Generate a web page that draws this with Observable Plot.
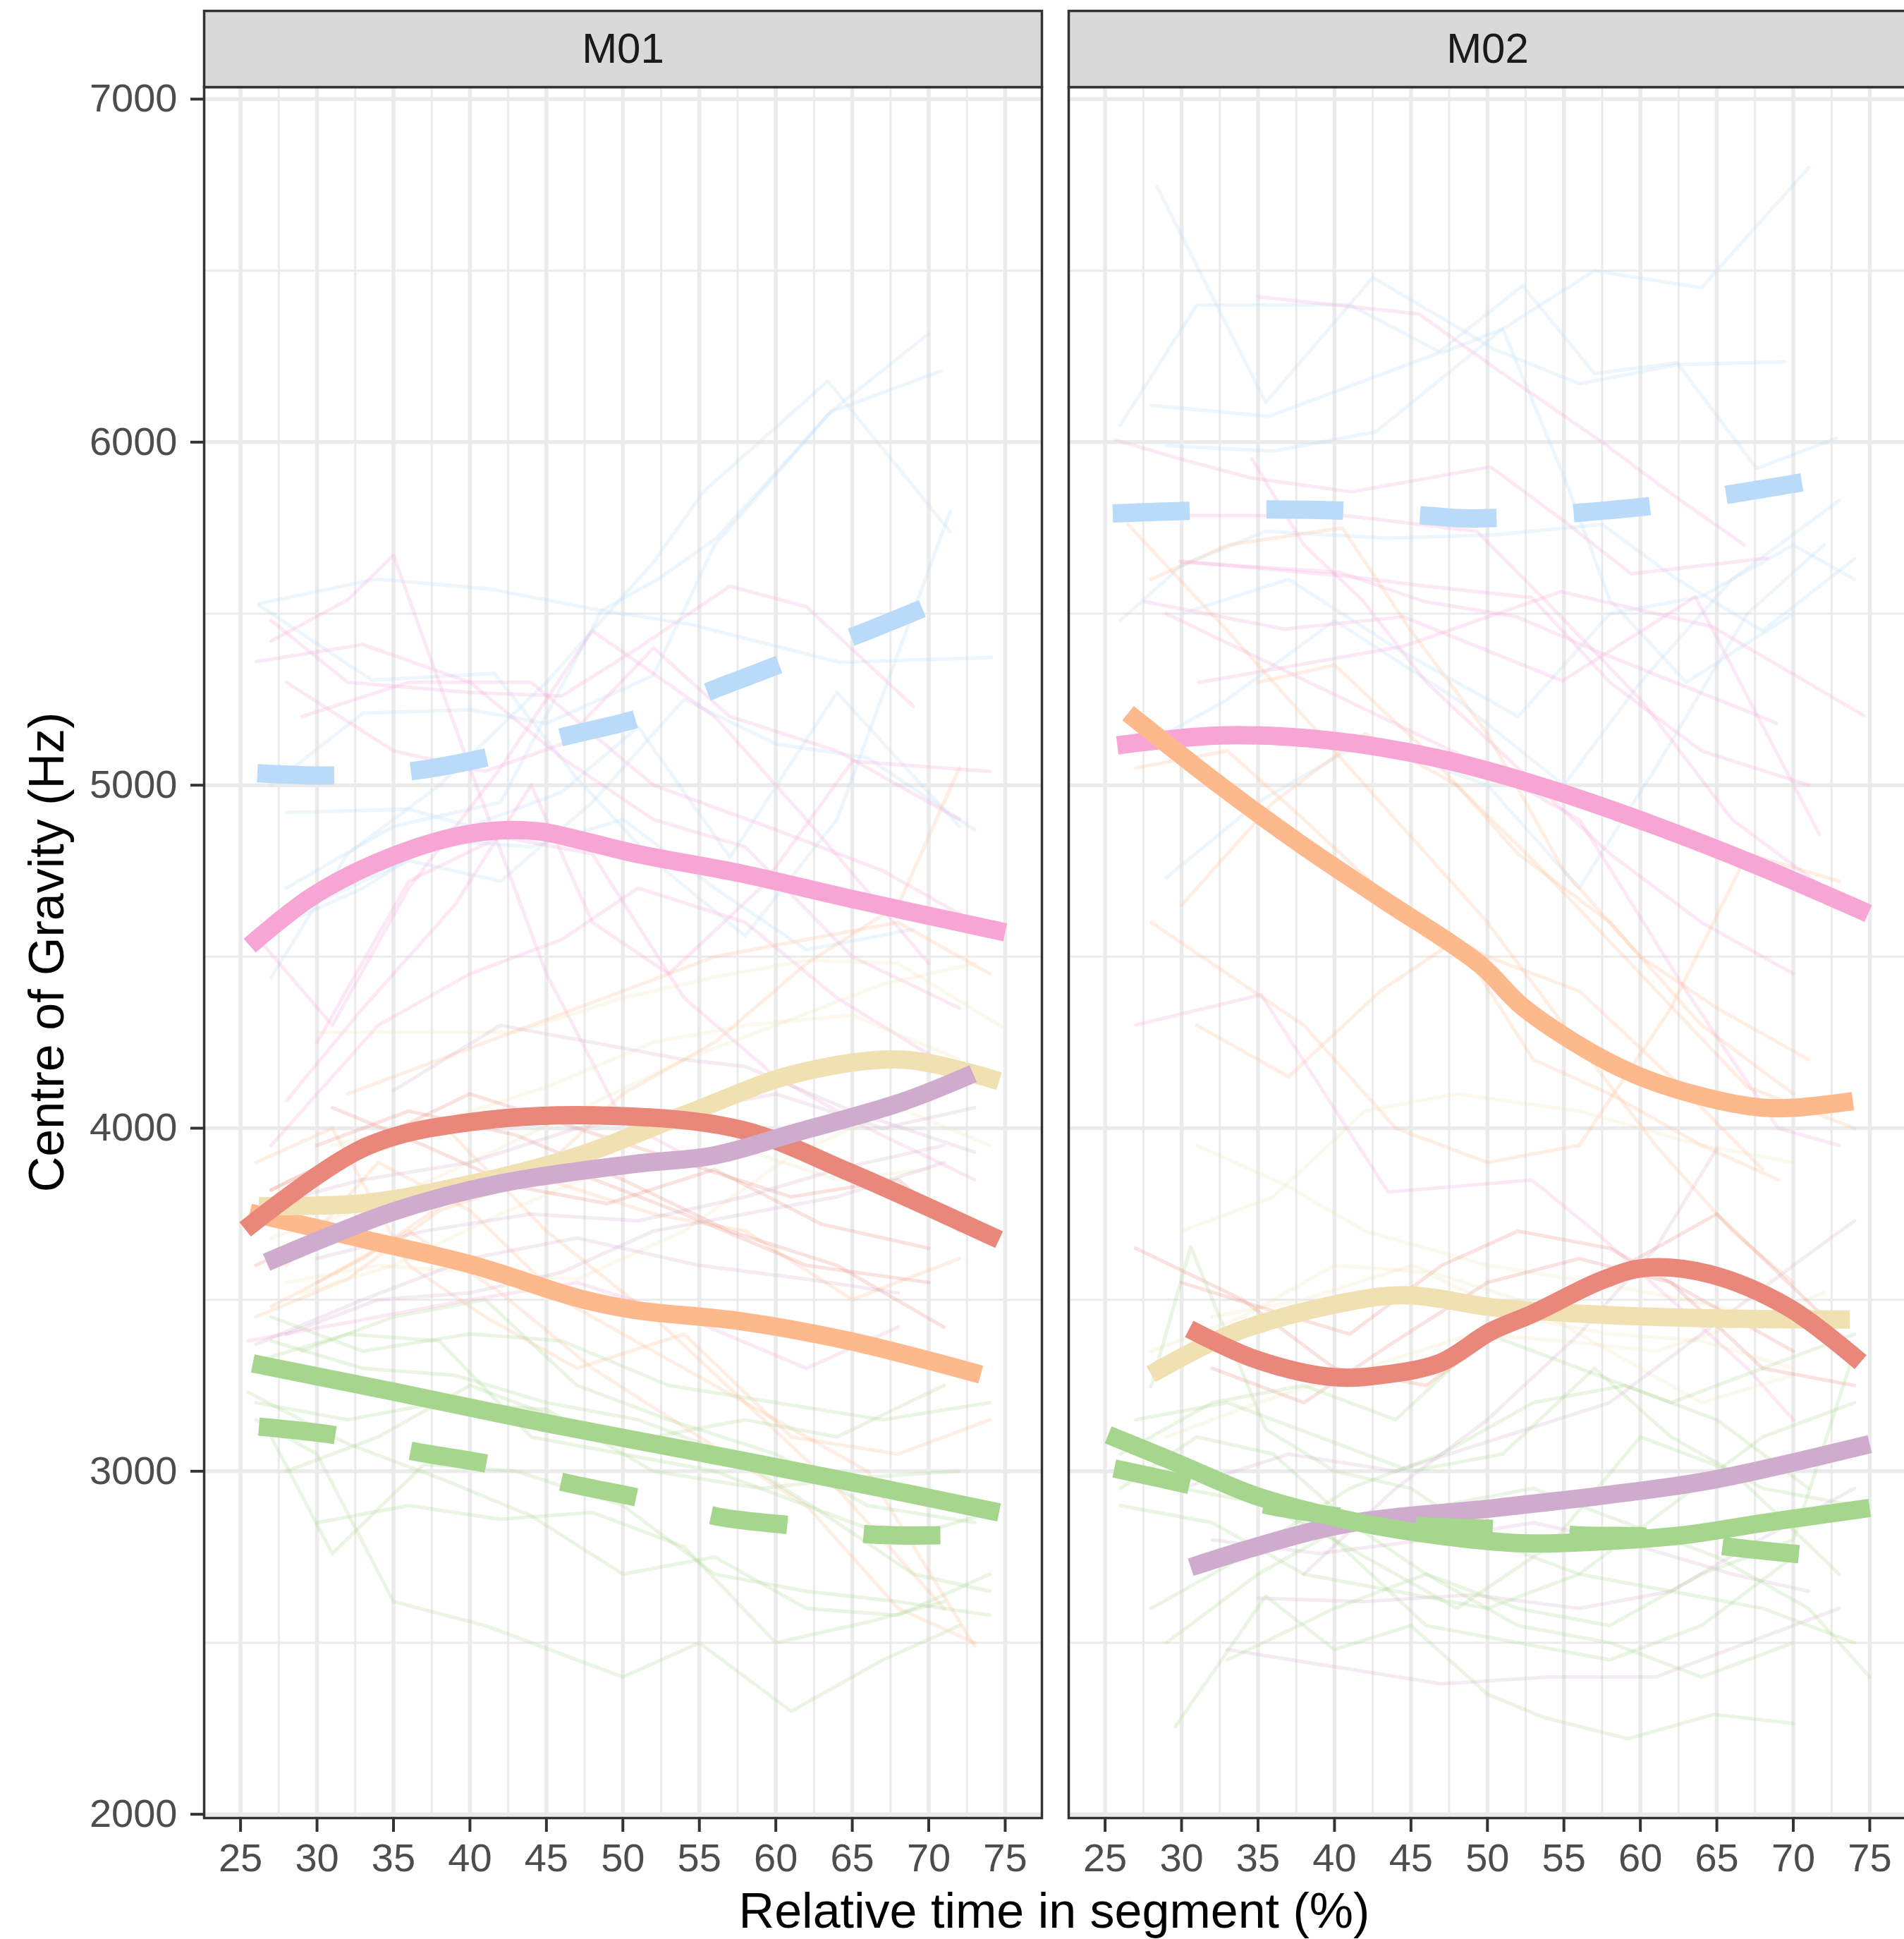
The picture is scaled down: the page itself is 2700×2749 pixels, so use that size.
<!DOCTYPE html>
<html><head><meta charset="utf-8">
<script src="https://cdn.jsdelivr.net/npm/d3@7"></script>
<script src="https://cdn.jsdelivr.net/npm/@observablehq/plot@0.6"></script>
<style>
html,body{margin:0;padding:0;background:#fff;overflow:hidden;}
#chart{width:2700px;height:2749px;overflow:hidden;}
#chart svg{display:block;max-width:none !important;height:auto;}
</style></head><body><div id="chart"></div>
<script>
// ---------- categories & ticks ----------
const panels = ["M01", "M02"];
const xTicks = [25, 30, 35, 40, 45, 50, 55, 60, 65, 70, 75];
const xMinor = [27.5, 32.5, 37.5, 42.5, 47.5, 52.5, 57.5, 62.5, 67.5, 72.5];
const yTicks = [2000, 3000, 4000, 5000, 6000, 7000];
const yMinor = [2500, 3500, 4500, 5500, 6500];
const xTitle = "Relative time in segment (%)";
const yTitle = "Centre of Gravity (Hz)";
const groupColors = {blue: "#b9daf8", pink: "#f7a5d4", orange: "#fdb98c", yellow: "#f0e0b2",
                     red: "#e8877a", purple: "#cfacce", green: "#a6d68e"};

// ---------- smoothed (thick) series, M01 ----------
const m01BlueDashed = [[26.1,5035],[31,5028],[36,5040],[41,5080],[46,5140],[51,5195],[56,5280],[61,5365],[66,5450],[70.4,5530]];
const m01Pink = [[25.6,4532],[29.7,4676],[35,4794],[40.2,4860],[44.4,4866],[47.2,4840],[50.8,4801],[57.8,4742],[64.8,4670],[75,4571]];
const m01Orange = [[25.6,3754],[33.2,3675],[40.2,3601],[47.2,3503],[50.8,3470],[57.8,3437],[64.8,3380],[73.4,3282]];
const m01Yellow = [[26.2,3773],[33.2,3782],[40.2,3839],[47.2,3921],[54.3,4044],[61.3,4159],[68.3,4200],[74.6,4137]];
const m01Red = [[25.3,3705],[33.2,3946],[40.2,4019],[49.4,4036],[57.8,3995],[64.8,3872],[74.6,3675]];
const m01Purple = [[26.7,3609],[35,3757],[42,3839],[50.8,3896],[56,3921],[61.3,3987],[68.3,4077],[72.9,4159]];
const m01Green = [[25.8,3314],[35,3232],[45,3140],[55,3055],[65,2968],[74.6,2880]];
const m01GreenDashed = [[26.2,3130],[31.2,3105],[36.3,3058],[41.3,3020],[46.4,2965],[51.3,2920],[56.4,2866],[61.5,2840],[66.5,2815],[71.6,2814]];

// ---------- smoothed (thick) series, M02 ----------
const m02BlueDashed = [[25.5,5792],[30.6,5800],[35.7,5804],[40.8,5800],[45.9,5786],[48.4,5778],[51,5780],[56.2,5795],[61.2,5817],[66.4,5852],[71.4,5889]];
const m02Pink = [[25.8,5116],[32.5,5145],[39.6,5131],[46.6,5080],[53.7,4994],[60.8,4885],[67.8,4763],[74.9,4626]];
const m02Orange = [[26.5,5210],[32.5,5000],[37.8,4828],[43.1,4669],[49.5,4478],[52.3,4354],[57.5,4203],[61,4133],[66.2,4071],[69,4058],[73.9,4079]];
const m02Yellow = [[28,3283],[33.1,3398],[40,3486],[44.6,3513],[50.5,3477],[57.5,3456],[64.5,3446],[73.7,3442]];
const m02Red = [[30.5,3415],[34.8,3327],[40,3274],[43.5,3283],[47,3318],[50.2,3407],[53,3460],[57.5,3557],[60.3,3593],[64.5,3575],[69.7,3477],[74.4,3318]];
const m02Purple = [[30.6,2720],[40,2840],[50.5,2893],[57.5,2929],[64.5,2973],[75,3079]];
const m02Green = [[25.2,3106],[29.6,3026],[34.8,2929],[40,2866],[45.3,2822],[52.3,2790],[57.5,2796],[62.7,2813],[68,2849],[75,2893]];
const m02GreenDashed = [[25.6,3008],[30.6,2959],[35.5,2902],[40.6,2866],[45.6,2840],[50.7,2831],[55.9,2813],[61,2808],[66.1,2778],[71.1,2755]];

// ---------- individual (faint) token trajectories: "x y,x y,..." ----------
const m01BlueFaint = [
 "26.2 5529,33.9 5601,41.3 5572,48.6 5509,54.3 5470,64.2 5358,74.1 5372",
 "26.2 5525,33.6 5306,41.6 5326,47 5020,52 4780,58 4560,64 4900,71.4 5798",
 "27 4440,32 4800,38 5000,45 5300,52 5650,55.3 5857,63.4 6178,71.4 5739",
 "28 4700,35 4880,42 4950,48.6 5509,52.3 5601,56.1 5719,63.6 6089,70 6316",
 "28 4920,36 4930,40 4880,46 4980,51 5170,57 4790,64 5270,72 4880",
 "27 5000,33 5210,40 5220,45 5180,52 5320,56 5700,63.6 6089,70.8 6207",
 "30 4660,36 4780,42 4720,48 4950,54 5250,60 5120,66 5080,73 4870",
 "27 4580,33 4700,38 4840,44 4820,50 4900,56 4700,62 4520,69 4580"
];
const m01PinkFaint = [
 "27 5420,32 5540,35 5670,40 5050,45 4450,50 4020,55 3900",
 "26 5360,33 5410,40 5300,46 5080,52 4900,58 4820,65 4500,72 4350",
 "28 5300,35 5100,41 5040,46 5120,52 5400,57 5200,64 5100,72 4900",
 "27 5480,32 5300,40 5270,46 5260,51 5400,57 5580,62 5520,69 5230",
 "26 4560,31 4300,36 4700,42 5050,48 5450,56 5200,62 4900,70 4480",
 "28 4080,33 4350,39 4650,44 5000,48 4600,53 4450,59 4700,65 5070,74 5040",
 "27 3950,34 4300,40 4450,46 4550,51 4700,58 4600,64 4380,72 4160",
 "30 4250,36 4720,42 4850,48 4800,54 4380,60 4150,66 4000,73 3850",
 "25.5 3380,34 3450,40 3500,47 3550,54 3450,62 3300,68 3420",
 "29 5200,36 5300,44 5300,52 5000,60 4870,67 4750,73 4600"
];
const m01OrangeFaint = [
 "26 3450,32 3560,38 3760,44 3850,50 4100,56 4250,62 4480,68 4650,72 5050",
 "27 3820,33 3950,38 4020,45 3700,52 3450,58 3200,64 2950,71 2600",
 "28 3600,34 3900,40 3760,46 3500,52 3350,60 3150,66 3000,73 2490",
 "26 3900,31 4000,36 3600,41 3450,47 3300,54 3400,61 3100,68 3050,74 3150",
 "30 3550,36 3700,42 3520,48 3300,55 3100,62 2900,68 2600,73 2500",
 "27 3480,33 3620,39 3800,45 3850,52 3750,58 3700,65 3500,72 3620",
 "32 4100,38 4200,44 4300,50 4400,56 4500,62 4550,68 4600,74 4450"
];
const m01YellowFaint = [
 "30 4280,38 4280,43 4280,50 4380,56 4440,62 4490,68 4480,75 4290",
 "27 3680,34 3780,40 3900,47 4050,54 4200,60 4300,67 4420,73 4480",
 "29 3520,35 3600,42 3750,50 3900,57 3950,64 3850,70 3880",
 "28 3550,34 3600,40 3580,47 3560,54 3700,61 3920,68 4060,74 3950",
 "31 3950,38 4020,45 4120,52 4250,58 4300,65 4330,72 4200"
];
const m01RedFaint = [
 "27 3820,33 3950,40 4100,47 4000,54 3900,61 3800,68 3850,72 3700",
 "30 3950,36 4050,43 3980,50 3850,57 3700,64 3600,71 3420",
 "26 3600,33 3750,40 3850,47 3870,54 3750,62 3600,70 3550",
 "31 4060,37 3950,43 3830,49 3780,56 3880,63 3720,70 3650"
];
const m01PurpleFaint = [
 "27 3780,33 3850,40 3900,47 4000,54 4050,60 4100,67 4000,73 4060",
 "28 3400,34 3500,40 3520,46 3580,52 3700,58 3750,64 3800,71 3900",
 "35 4110,42 4300,48 4250,54 4200,58 4180,65 4050,73 3930",
 "26 3370,33 3500,40 3620,47 3680,55 3600,62 3560,68 3520",
 "30 3620,37 3700,44 3750,51 3730,58 3800,64 3880,71 3950"
];
const m01GreenFaint = [
 "27 3100,31 2760,37 3020,43 3000,50 2900,56 2700,62 2650,68 2620,74 2580",
 "29 3350,35 3450,41 3500,47 3250,53 3150,60 3050,66 2900,73 2850",
 "26 3150,30 3050,35 2620,41 2550,50 2400,55 2500,61 2300,67 2450,72 2550",
 "27 3380,33 3300,39 3280,45 3200,51 3150,57 3050,63 2880,69 2700,74 2650",
 "26 3200,32 3150,38 3200,45 3180,52 3000,59 2950,65 2980,72 3000",
 "28 3000,34 3100,40 3250,46 3150,52 3100,58 3150,64 3100,71 3250",
 "25.5 3230,32 3080,38 2980,44 2870,50 2700,56 2750,62 2600,68 2580,74 2700",
 "27 3450,33 3350,40 3400,46 3380,53 3250,60 3200,67 3150,74 3200",
 "30 2850,36 2900,42 2860,48 2880,54 2780,60 2500,66 2560,71 2620",
 "26 3320,32 3400,38 3380,44 3100,50 3050,56 3000,62 2900,68 2800,74 2880"
];
const m02BlueFaint = [
 "26 6050,31 6400,41 6400,47 6260,51 6330,57 6500,64 6450,71 6800",
 "28.4 6745,35.5 6116,42.5 6480,50.5 6270,56 6170,62.4 6226,69.4 6234",
 "28 6107,35.7 6075,46.7 6258,52.3 6456,57 6200,62.4 6231,67.6 5923,72.8 6011",
 "29 5990,36 5974,42.7 6030,51 6330,55 5900,58 5540,63 5300,70 5500",
 "26 5480,30 5640,35.5 5740,43.5 5720,50.5 5730,57.5 5760,62.4 5600,68 5450,74 5660",
 "27 5100,33 5250,40 5480,48 5250,55 5000,60 5300,66 5600,73 5830",
 "29 4730,35 4950,42 5130,50 5000,56 4700,61 5050,67 5500,72 5700",
 "30 5500,37 5600,44 5400,52 5200,58 5500,64 5550,70 5700,74 5600"
];
const m02PinkFaint = [
 "35 6424,45.5 6374,51 6200,57.5 6000,62 5850,66.8 5700",
 "25.7 6006,30 5950,34.5 5896,41.1 5855,50.2 5928,55 5770,59.4 5616,68.3 5662",
 "29.9 5786,40.7 5786,49.3 5740,53.6 5547,60 5250,66 4900,72 4700",
 "29.9 5653,40.4 5611,46 5580,52.9 5547,58 5300,64 5100,71 5000",
 "27.6 5535,36.7 5455,44.5 5491,54.9 5304,63.6 5549,71.7 4857",
 "31.1 5299,44.5 5405,54.8 5564,64.7 5462,74.6 5203",
 "30 5650,40.3 5621,45.9 5535,51.9 5491,57.2 5390,68.9 5181",
 "27 4301,35.2 4389,43.5 3814,52.9 3849,57 3700,62 3500,67 3300,70 3150",
 "34.6 5951,38 5700,41.8 5540,46 5300,52 5050,58 4800,64 4600,70 4450",
 "29 5500,36 5350,43 5200,50 5050,56 4900,63 4400,69 4000,73 3950"
];
const m02OrangeFaint = [
 "26.5 5760,33 5450,38 5200,44 4900,50 4600,55 4300,61 3950,66 3700,70 3550",
 "28 5600,33 5700,40.5 5750,45 5450,50 5150,55 4750,60 4500,65 4350,71 4200",
 "27 5050,33 5100,38 4900,44 4650,50 4500,56 4400,62 4150,68 3880",
 "30 4650,36 4950,42 5150,48 5000,53 4780,60 4450,67 4120,74 4000",
 "28 4600,33 4450,38 4300,44 4000,50 3900,56 3950,62 4350,67 4800,73 4720",
 "31 4300,37 4150,43 4400,48 4550,53 4200,58 4100,64 3950,69 3850",
 "35 5300,40 5350,46 5100,52 4800,58 4600,64 4300,70 4100"
];
const m02YellowFaint = [
 "30 3700,36 3800,42 4050,48 4100,56 4050,64 3950,70 3900",
 "31 3950,37 3830,42 3700,50 3600,57 3550,63 3500,68 3450",
 "28 3350,34 3450,40 3600,46 3580,52 3450,58 3400,64 3380,70 3300",
 "29 3100,35 3200,42 3300,49 3400,55 3380,61 3350,66 3420,72 3520",
 "32 3450,38 3500,45 3600,52 3500,58 3350,64 3200,70 3280"
];
const m02RedFaint = [
 "30 3550,35 3480,41 3400,47 3600,52 3700,58 3650,64 3500,70 3350",
 "27 3650,34 3500,40 3300,46 3250,52 3450,59 3600,65 3750,72 3450",
 "32 3300,38 3200,44 3380,50 3550,56 3620,62 3550,68 3300,74 3250"
];
const m02PurpleFaint = [
 "33 2480,40 2430,47 2380,54 2400,61 2400,67 2500,73 2600",
 "38 2700,44 2950,50 3150,56 3400,61 3650,65 3940",
 "35 2630,42 2620,49 2640,56 2600,62 2650,67 2780,74 2950",
 "30 2950,37 3050,44 3000,51 3100,58 3200,64 3400,70 3600,74 3730",
 "32 2800,39 2760,46 2800,53 2850,60 2780,66 2700,71 2650"
];
const m02GreenFaint = [
 "28 3247,30.6 3654,35.5 3123,40 3000,45 2950,50 2800,56 2700,62 2650,68 2600,74 2500",
 "29.6 2256,35.5 2636,40 2480,45 2550,50 2350,53.7 2282,59.2 2220,64.8 2291,70 2265",
 "26 2950,31 3100,36 3050,41 2850,46 2700,52 2600,58 2550,64 2700,70 2800,74 3350",
 "27 3150,33 3200,39 3100,45 3000,51 3050,57 3300,62 3100,68 2950,74 2900",
 "26 2900,32 2850,38 2700,44 2650,50 2600,56 2700,62 2900,68 3100,74 3200",
 "28 2600,34 2750,41 2950,47 3050,53 3200,59 3250,65 3150,71 2950",
 "27 3050,33 2950,40 2800,46 2550,52 2500,58 2450,64 2550,70 2750",
 "30 2950,36 2900,42 2750,48 2600,54 2780,60 3100,66 3000,73 2700",
 "29 2500,35 2700,41 2850,47 2900,53 2950,59 2850,65 2750,71 2600,75 2400",
 "26 3050,32 3200,38 3250,44 3150,50 3400,56 3300,62 3200,68 3300,74 3400",
 "33 2450,40 2600,46 2700,52 2550,58 2500,64 2400,70 2500"
];

// ---------- build tables ----------
const smoothSeries = [
  ["M01","blue",true,m01BlueDashed],["M01","pink",false,m01Pink],["M01","orange",false,m01Orange],
  ["M01","yellow",false,m01Yellow],["M01","red",false,m01Red],["M01","purple",false,m01Purple],
  ["M01","green",false,m01Green],["M01","green",true,m01GreenDashed],
  ["M02","blue",true,m02BlueDashed],["M02","pink",false,m02Pink],["M02","orange",false,m02Orange],
  ["M02","yellow",false,m02Yellow],["M02","red",false,m02Red],["M02","purple",false,m02Purple],
  ["M02","green",false,m02Green],["M02","green",true,m02GreenDashed]
];
const smoothRows = smoothSeries.flatMap(([panel, group, dashed, pts]) =>
  pts.map(([x, y]) => ({panel, group, dashed, key: panel + group + (dashed ? "-d" : ""), x, y})));

const faintSets = [
  ["M01","blue",m01BlueFaint],["M01","pink",m01PinkFaint],["M01","orange",m01OrangeFaint],
  ["M01","yellow",m01YellowFaint],["M01","red",m01RedFaint],["M01","purple",m01PurpleFaint],["M01","green",m01GreenFaint],
  ["M02","blue",m02BlueFaint],["M02","pink",m02PinkFaint],["M02","orange",m02OrangeFaint],
  ["M02","yellow",m02YellowFaint],["M02","red",m02RedFaint],["M02","purple",m02PurpleFaint],["M02","green",m02GreenFaint]
];
const faintRows = faintSets.flatMap(([panel, group, lines]) =>
  lines.flatMap((s, i) => s.split(",").map(p => {
    const [x, y] = p.trim().split(/\s+/).map(Number);
    return {panel, group, id: panel + group + i, x, y};
  })));

const drawOrder = [["blue",true],["pink",false],["orange",false],["yellow",false],["red",false],["purple",false],["green",false],["green",true]];
const faintOrder = ["blue","pink","orange","yellow","red","purple","green"];

// ---------- layout ----------
const W = 2704, H = 2749;
const mTop = 123, mBottom = 172, mLeft = 289, mRight = 1;
const stripTop = 15;
const panelH = H - mTop - mBottom;
const gridCol = "#ebebeb";

const plot = Plot.plot({
  width: W, height: H,
  marginTop: mTop, marginBottom: mBottom, marginLeft: mLeft, marginRight: mRight,
  style: {fontFamily: "'Liberation Sans', Arial, Helvetica, sans-serif", background: "#fff", color: "#4d4d4d", maxWidth: "none"},
  fx: {domain: panels, axis: null, paddingInner: 0.031, paddingOuter: 0},
  x: {domain: [22.62, 77.4]},
  y: {domain: [1989, 7035]},
  color: {type: "identity"},
  marks: [
    Plot.gridX(xMinor, {stroke: gridCol, strokeOpacity: 1, strokeWidth: 3}),
    Plot.gridY(yMinor, {stroke: gridCol, strokeOpacity: 1, strokeWidth: 3}),
    Plot.gridX(xTicks, {stroke: gridCol, strokeOpacity: 1, strokeWidth: 5.5}),
    Plot.gridY(yTicks, {stroke: gridCol, strokeOpacity: 1, strokeWidth: 5.5}),
    ...faintOrder.map(g => Plot.line(faintRows.filter(r => r.group === g), {
      x: "x", y: "y", z: "id", fx: "panel", stroke: groupColors[g], strokeWidth: 5, strokeOpacity: 0.24
    })),
    ...drawOrder.map(([g, d]) => Plot.line(smoothRows.filter(r => r.group === g && r.dashed === d), {
      x: "x", y: "y", z: "key", fx: "panel", stroke: groupColors[g], strokeWidth: 26,
      curve: "catmull-rom", strokeLinecap: "butt", strokeLinejoin: "round",
      ...(d ? {strokeDasharray: "109,109"} : {})
    })),
    Plot.frame({stroke: "#333", strokeWidth: 3.5}),
    Plot.frame({fill: "#d9d9d9", stroke: "#333", strokeWidth: 3.5, insetTop: -(mTop - stripTop), insetBottom: panelH}),
    Plot.text(panels, {fx: d => d, text: d => d, frameAnchor: "top", lineAnchor: "middle",
      dy: -(mTop - stripTop) / 2, fontSize: 60, fill: "#1a1a1a"}),
    Plot.axisX(xTicks, {anchor: "bottom", tickSize: 20, tickPadding: 16, fontSize: 56, stroke: "#333", strokeWidth: 4,
      fill: "#4d4d4d", label: null, facetAnchor: "bottom", tickFormat: d => String(d)}),
    Plot.axisY(yTicks, {anchor: "left", tickSize: 19, tickPadding: 19, fontSize: 56, stroke: "#333", strokeWidth: 4,
      fill: "#4d4d4d", label: null, facetAnchor: "left", tickFormat: d => String(d)})
  ]
});

const svg = d3.select(plot);
const yS = plot.scale("y");
const cx = (mLeft + 2701) / 2;
const cy = (yS.range[0] + yS.range[1]) / 2;
svg.append("text").attr("x", cx).attr("y", H - 16).attr("text-anchor", "middle")
  .attr("font-size", 70).attr("fill", "#000").text(xTitle);
svg.append("text").attr("transform", `translate(90,${cy}) rotate(-90)`).attr("text-anchor", "middle")
  .attr("font-size", 70).attr("fill", "#000").text(yTitle);
plot.style.maxWidth = "none";
plot.style.width = W + "px";
document.getElementById("chart").appendChild(plot);
</script></body></html>
